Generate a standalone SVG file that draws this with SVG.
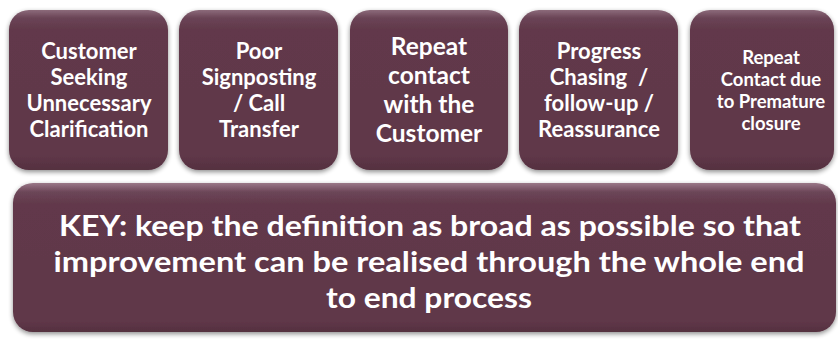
<svg xmlns="http://www.w3.org/2000/svg" width="838" height="340" viewBox="0 0 838 340">
  <defs>
    <linearGradient id="fillGrad" x1="0" y1="0" x2="0" y2="1">
      <stop offset="0" stop-color="#8c6a7a"/>
      <stop offset="0.05" stop-color="#6a4456"/>
      <stop offset="0.12" stop-color="#62394b"/>
      <stop offset="0.9" stop-color="#603849"/>
      <stop offset="1" stop-color="#553040"/>
    </linearGradient>
    <linearGradient id="fillGradBig" x1="0" y1="0" x2="0" y2="1">
      <stop offset="0" stop-color="#9a7888"/>
      <stop offset="0.06" stop-color="#6c4658"/>
      <stop offset="0.14" stop-color="#62394b"/>
      <stop offset="0.92" stop-color="#603849"/>
      <stop offset="1" stop-color="#553040"/>
    </linearGradient>
    <filter id="shadow" x="-10%" y="-10%" width="120%" height="125%">
      <feGaussianBlur in="SourceAlpha" stdDeviation="2.5"/>
      <feOffset dx="0" dy="2" result="b"/>
      <feComponentTransfer><feFuncA type="linear" slope="0.45"/></feComponentTransfer>
      <feMerge><feMergeNode/><feMergeNode in="SourceGraphic"/></feMerge>
    </filter>
  </defs>
  <style>
    .box { fill: url(#fillGrad); filter: url(#shadow); }
    .big { fill: url(#fillGradBig); filter: url(#shadow); }
    text { font-family: Lato, "Open Sans", "Liberation Sans", sans-serif; font-weight: bold; fill: #ffffff; text-anchor: middle; }
    .t22 { font-size: 22px; }
    .t24 { font-size: 24.5px; }
    .t18 { font-size: 18.5px; }
    .t28 { font-size: 28.5px; }
  </style>
  <rect width="838" height="340" fill="#ffffff"/>

  <g id="node1">
    <rect class="box" x="9" y="10" width="159" height="160" rx="20"/>
    <text class="t22" x="89" y="59">Customer</text>
    <text class="t22" x="89" y="85">Seeking</text>
    <text class="t22" x="89" y="111">Unnecessary</text>
    <text class="t22" x="89" y="137">Clarification</text>
  </g>

  <g id="node2">
    <rect class="box" x="179" y="10" width="159" height="160" rx="20"/>
    <text class="t22" x="259" y="59">Poor</text>
    <text class="t22" x="259" y="85">Signposting</text>
    <text class="t22" x="259" y="111">/ Call</text>
    <text class="t22" x="259" y="137">Transfer</text>
  </g>

  <g id="node3">
    <rect class="box" x="350" y="10" width="158" height="160" rx="20"/>
    <text class="t24" x="429" y="55">Repeat</text>
    <text class="t24" x="429" y="84">contact</text>
    <text class="t24" x="429" y="113">with the</text>
    <text class="t24" x="429" y="142">Customer</text>
  </g>

  <g id="node4">
    <rect class="box" x="519" y="10" width="159" height="160" rx="20"/>
    <text class="t22" x="599" y="59">Progress</text>
    <text class="t22" x="599" y="85">Chasing&#160; /</text>
    <text class="t22" x="599" y="111">follow-up /</text>
    <text class="t22" x="599" y="137">Reassurance</text>
  </g>

  <g id="node5">
    <rect class="box" x="690" y="10" width="144" height="160" rx="20"/>
    <text class="t18" x="771" y="64">Repeat</text>
    <text class="t18" x="771" y="86">Contact due</text>
    <text class="t18" x="771" y="108">to Premature</text>
    <text class="t18" x="771" y="130">closure</text>
  </g>

  <g id="node6">
    <rect class="big" x="13" y="183" width="823" height="149" rx="20"/>
    <text class="t28" x="430" y="236" textLength="742" lengthAdjust="spacingAndGlyphs">KEY: keep the definition as broad as possible so that</text>
    <text class="t28" x="429" y="272" textLength="751" lengthAdjust="spacingAndGlyphs">improvement can be realised through the whole end</text>
    <text class="t28" x="429" y="308" textLength="206" lengthAdjust="spacingAndGlyphs">to end process</text>
  </g>

  <g id="connectors"/>
</svg>
